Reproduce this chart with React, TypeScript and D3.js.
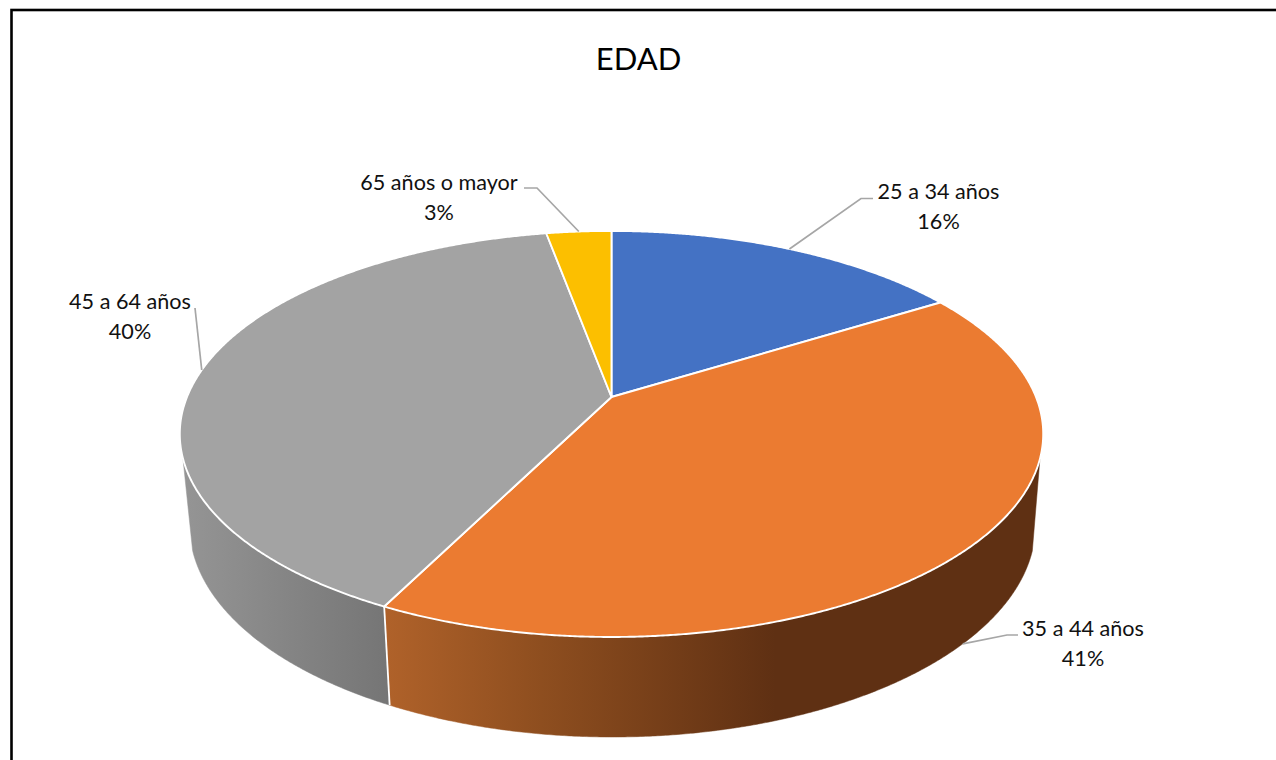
import * as d3 from "d3";

const categories = ["25 a 34 años", "35 a 44 años", "45 a 64 años", "65 años o mayor"];
const values = [16.15, 41.25, 39.7, 2.9];
const colors = ["#4472C4", "#EB7B31", "#A3A3A3", "#FCBF00"];
const title = "EDAD";

const W = 1276;
const H = 760;
const FONT = "Lato, 'Open Sans', sans-serif";

// perspective of the top face
const apex = { x: 611.5, y: 397 };
const persp = { a: 424.5, b: 196.3, k: 0.182 };
// top rim ellipse and bottom rim ellipse, both in screen px
const topRim = { cx: 611.5, cy: 434, rx: 431.5, ry: 203 };
const botRim = { cx: 612.5, cy: 525, rx: 423, ry: 212 };
const wallFrom = 0.12; // sin of the rim angle where the side wall comes into view

const labelPos = [
  { x: 938.5, y: 199, elbow: [861, 198.5], end: [873, 198.5] },
  { x: 1083, y: 636, elbow: [1007, 635], end: [1018, 635] },
  { x: 130, y: 309, elbow: null, end: [195, 308] },
  { x: 439, y: 190, elbow: [537, 188], end: [524, 188] },
];

type Pt = [number, number];

// pie angle (0 = far side, clockwise) to a point on the top rim
function project(theta: number): Pt {
  const u = Math.sin(theta);
  const v = Math.cos(theta);
  const w = 1 + persp.k * v;
  return [apex.x + (persp.a * u) / w, apex.y - (persp.b * v) / w];
}

function rimSin(p: Pt) {
  return (p[1] - topRim.cy) / topRim.ry;
}

function toBottom(p: Pt): Pt {
  const phi = Math.atan2((p[1] - topRim.cy) / topRim.ry, (p[0] - topRim.cx) / topRim.rx);
  return [botRim.cx + botRim.rx * Math.cos(phi), botRim.cy + botRim.ry * Math.sin(phi)];
}

const pie = d3.pie<number>().sort(null).startAngle(0).endAngle(2 * Math.PI);
const arcs = pie(values);

const lineGen = d3.line<Pt>();

function rimPoints(start: number, end: number): Pt[] {
  const n = Math.ceil((end - start) / 0.005);
  const t = d3.scaleLinear().domain([0, n]).range([start, end]);
  return d3.range(n + 1).map((i) => project(t(i)));
}

export default function App() {
  return (
    <svg
      width={W}
      height={H}
      viewBox={`0 0 ${W} ${H}`}
      style={{ position: "absolute", left: 0, top: 0, background: "#fff" }}
      fontFamily={FONT}
    >
      <defs>
        <linearGradient id="wall-1" gradientUnits="userSpaceOnUse" x1={385} x2={775} y1={0} y2={0}>
          <stop offset="0" stopColor="#B0622A" />
          <stop offset="0.4" stopColor="#8E4E1F" />
          <stop offset="1" stopColor="#5F3013" />
        </linearGradient>
        <linearGradient id="wall-2" gradientUnits="userSpaceOnUse" x1={182} x2={390} y1={0} y2={0}>
          <stop offset="0" stopColor="#959595" />
          <stop offset="1" stopColor="#757575" />
        </linearGradient>
      </defs>

      <rect x={11.5} y={10} width={W + 40} height={H + 40} fill="none" stroke="#000" strokeWidth={2.6} />

      <text x={638.5} y={70} textAnchor="middle" fontSize={31} fill="#000">
        {title}
      </text>

      {/* side walls */}
      {arcs.map((a, i) => {
        const top = rimPoints(a.startAngle, a.endAngle).filter((p) => rimSin(p) >= wallFrom);
        if (top.length < 2) return null;
        const bottom = top.map(toBottom).reverse();
        return (
          <path
            key={i}
            d={lineGen([...top, ...bottom]) + "Z"}
            fill={`url(#wall-${i})`}
            stroke={`url(#wall-${i})`}
            strokeWidth={0.5}
          />
        );
      })}
      {arcs.slice(1).map((a, i) => {
        const p = project(a.startAngle);
        if (rimSin(p) < wallFrom) return null;
        return <path key={i} d={lineGen([p, toBottom(p)]) ?? ""} stroke="#fff" strokeWidth={1.8} fill="none" />;
      })}

      {/* top face */}
      {arcs.map((a, i) => (
        <path
          key={i}
          d={lineGen([[apex.x, apex.y], ...rimPoints(a.startAngle, a.endAngle)]) + "Z"}
          fill={colors[i]}
          stroke="#fff"
          strokeWidth={1.9}
          strokeLinejoin="round"
        />
      ))}

      {/* leader lines */}
      {arcs.map((a, i) => {
        const mid = (a.startAngle + a.endAngle) / 2;
        const rim = project(mid);
        const anchor = rimSin(rim) >= wallFrom ? toBottom(rim) : rim;
        const l = labelPos[i];
        const pts = [anchor, ...(l.elbow ? [l.elbow as Pt] : []), l.end as Pt];
        return <path key={i} d={lineGen(pts) ?? ""} fill="none" stroke="#A6A6A6" strokeWidth={1.7} />;
      })}

      {/* labels */}
      {categories.map((c, i) => (
        <text key={c} textAnchor="middle" fontSize={21.6} fill="#111">
          <tspan x={labelPos[i].x} y={labelPos[i].y}>
            {c}
          </tspan>
          <tspan x={labelPos[i].x} y={labelPos[i].y + 30}>
            {Math.round(values[i])}%
          </tspan>
        </text>
      ))}
    </svg>
  );
}
